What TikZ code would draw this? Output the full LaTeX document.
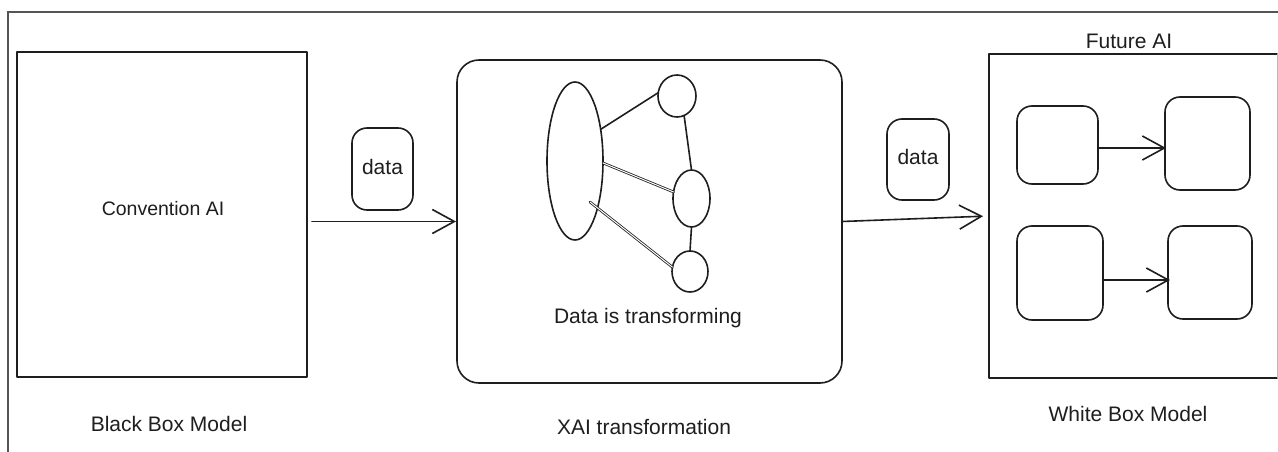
\documentclass[tikz,border=0pt]{standalone}
\usepackage{fontspec}
\setmainfont{Liberation Sans}
\usetikzlibrary{shapes.geometric,arrows.meta,calc}
\definecolor{ink}{HTML}{1E1E1E}
\definecolor{framegray}{HTML}{555555}
\begin{document}
\begin{tikzpicture}[x=1pt,y=-1pt,
  every node/.style={inner sep=0pt,outer sep=0pt},
  ln/.style={draw=ink,line width=1.6pt,line cap=round,line join=round},
  sqbox/.style={ln,rectangle},
  bigrbox/.style={ln,rectangle,rounded corners=22pt},
  rbox/.style={ln,rectangle,rounded corners=15pt},
  oval/.style={ln,ellipse},
  lbl/.style={text=ink,font=\fontsize{21}{24}\selectfont},
  conn/.style={ln},
  dconn/.style={draw=ink,line width=0.8pt,double=white,double distance=1pt,line cap=round},
  arr/.style={ln,-{Straight Barb[length=22pt,width=24pt,line width=1.6pt]}},
]
\useasboundingbox (0,0) rectangle (1278,452);
\fill[white] (0,0) rectangle (1278,452);
% outer frame
\coordinate (fTL) at (8,12);
\coordinate (fTR) at (1278,12);
\coordinate (fBL) at (8,452);
\draw[framegray,line width=1.2pt] (fBL) -- (fTL) -- (fTR);

% black box
\node[sqbox,minimum width=290pt,minimum height=325pt] (bb) at (162,214.5) {};
\node[lbl,font=\fontsize{19.5}{22}\selectfont] (bbtxt) at (163,209) {Convention AI};
\node[lbl] (bbcap) at (169,424) {Black Box Model};

% data label 1
\node[rbox,minimum width=61pt,minimum height=82pt] (d1) at (382.5,169) {};
\node[lbl] (d1txt) at (382.5,167) {data};

% XAI box
\node[bigrbox,minimum width=385pt,minimum height=323pt] (xai) at (649.5,221.5) {};
\node[lbl] (xaitxt) at (648,318) {Data is transforming};
\node[lbl] (xaicap) at (644,427) {XAI transformation};

% network
\node[oval,minimum width=56pt,minimum height=158pt] (e) at (575,161) {};
\node[oval,minimum width=38pt,minimum height=42pt] (c1) at (677,96) {};
\node[oval,minimum width=37pt,minimum height=57pt] (c2) at (691.5,198.5) {};
\node[oval,minimum width=36pt,minimum height=41pt] (c3) at (690,271.5) {};
\draw[conn] (e.51) -- (c1.170);
\draw[dconn] (e.-4) -- (c2.160);
\draw[dconn] ([shift={(15,41)}]e.center) -- (c3.166);
\draw[conn] (c1.-70) -- (c2.north);
\draw[conn] (c2.south) -- (c3.north);

% data label 2
\node[rbox,minimum width=62pt,minimum height=81pt] (d2) at (918,159.5) {};
\node[lbl] (d2txt) at (918,157) {data};

% white box
\node[minimum width=288pt,minimum height=324pt] (wb) at (1133,216) {};
\draw[ln] (wb.north east) -- (wb.north west) -- (wb.south west) -- (wb.south east);
\draw[gray!55,line width=1pt] (wb.north east) -- (wb.south east);
\node[lbl] (wbtop) at (1129,41) {Future AI};
\node[lbl] (wbcap) at (1128,414) {White Box Model};

\node[rbox,minimum width=81pt,minimum height=78pt] (tl) at (1057.5,145) {};
\node[rbox,minimum width=85pt,minimum height=93pt] (tr) at (1207.5,143.5) {};
\node[rbox,minimum width=86pt,minimum height=94pt] (bl) at (1060,273) {};
\node[rbox,minimum width=84pt,minimum height=93pt] (br) at (1210,272.5) {};

% arrows
\draw[arr,shorten <=5pt,shorten >=1pt] (bb.east |- xai.west) -- (xai.west);
\draw[arr,shorten >=6pt] (xai.east) -- (wb.west);
\draw[arr,shorten >=-1pt] ([yshift=-3pt]tl.east) -- ([yshift=-3pt]tl.east -| tr.west);
\draw[arr,shorten >=-2pt] ([yshift=-7pt]bl.east) -- ([yshift=-7pt]bl.east -| br.west);
\end{tikzpicture}
\end{document}
